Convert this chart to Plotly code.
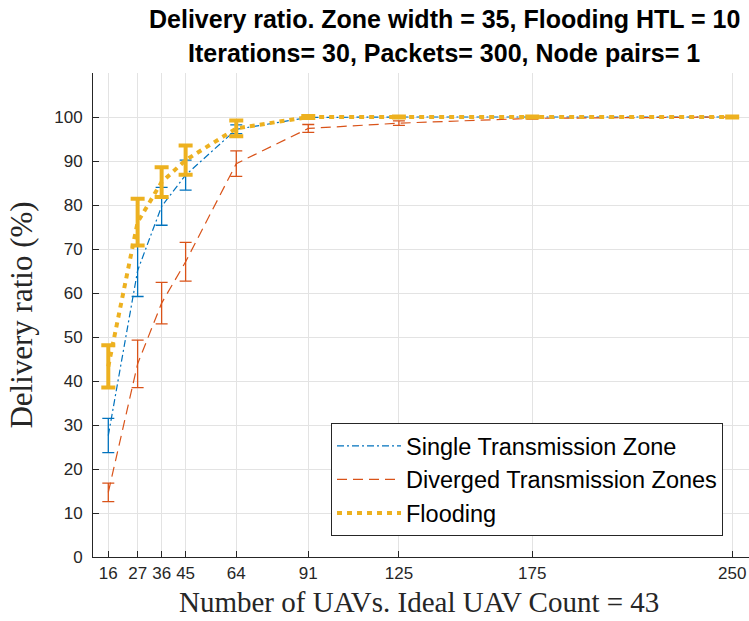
import plotly.graph_objects as go

# ---- data ----
uav_counts = [16, 27, 36, 45, 64, 91, 125, 175, 250]
tick_labels = ["16", "27", "36", "45", "64", "91", "125", "175", "250"]

single_zone = [27.6, 65.1, 79.7, 86.8, 97.2, 99.9, 100.0, 100.0, 100.0]
single_zone_err = [3.9, 5.9, 4.3, 3.4, 1.0, 0.2, 0.05, 0.0, 0.0]

diverged_zones = [14.7, 43.9, 57.7, 67.1, 89.4, 97.4, 98.6, 99.7, 100.0]
diverged_zones_err = [2.1, 5.4, 4.7, 4.4, 2.9, 0.9, 0.5, 0.2, 0.0]

flooding = [43.3, 76.1, 85.2, 90.2, 97.4, 100.0, 100.0, 100.0, 100.0]
flooding_err = [4.8, 5.3, 3.4, 3.3, 1.8, 0.2, 0.1, 0.1, 0.1]

series_names = ["Single Transmission Zone", "Diverged Transmission Zones", "Flooding"]
y_ticks = list(range(0, 101, 10))

title_line1 = "Delivery ratio. Zone width = 35, Flooding HTL = 10"
title_line2 = "Iterations= 30, Packets= 300, Node pairs= 1"
x_title = "Number of UAVs. Ideal UAV Count = 43"
y_title = "Delivery ratio (%)"

BLUE = "#0072BD"
ORANGE = "#D95319"
YELLOW = "#EDB120"
AXC = "#262626"

fig = go.Figure()

fig.add_trace(go.Scatter(
    x=uav_counts, y=single_zone, name=series_names[0], mode="lines",
    line=dict(color=BLUE, width=1.2, dash="7px,3px,2px,3px"),
    error_y=dict(type="data", array=single_zone_err, visible=True,
                 color=BLUE, thickness=1.3, width=6),
))
fig.add_trace(go.Scatter(
    x=uav_counts, y=diverged_zones, name=series_names[1], mode="lines",
    line=dict(color=ORANGE, width=1.2, dash="10px,6px"),
    error_y=dict(type="data", array=diverged_zones_err, visible=True,
                 color=ORANGE, thickness=1.3, width=6),
))
fig.add_trace(go.Scatter(
    x=uav_counts, y=flooding, name=series_names[2], mode="lines",
    line=dict(color=YELLOW, width=4, dash="5px,5px"),
    error_y=dict(type="data", array=flooding_err, visible=True,
                 color=YELLOW, thickness=4, width=7),
))

W, H = 749, 621
L, R, T, B = 93, 0, 73, 64
pw = W - L - R
ph = H - T - B

def px_x(px):
    return (px - L) / pw

def px_y(py):
    return (H - B - py) / ph

fig.update_layout(
    width=W, height=H,
    margin=dict(l=L, r=R, t=T, b=B, pad=0),
    paper_bgcolor="white", plot_bgcolor="white",
    font=dict(family="Liberation Sans, Arial, sans-serif", color=AXC),
    showlegend=True,
    legend=dict(
        x=px_x(723), y=px_y(536), xanchor="right", yanchor="bottom",
        bgcolor="white", bordercolor=AXC, borderwidth=1,
        font=dict(size=23.5, color="black", family="Liberation Sans, Arial, sans-serif"),
        itemwidth=64, tracegroupgap=0,
    ),
    annotations=[
        dict(text="<b>" + title_line1 + "</b>", x=px_x(444), y=px_y(19),
             xref="paper", yref="paper", xanchor="center", yanchor="middle",
             showarrow=False, font=dict(size=25, color="black")),
        dict(text="<b>" + title_line2 + "</b>", x=px_x(444), y=px_y(53),
             xref="paper", yref="paper", xanchor="center", yanchor="middle",
             showarrow=False, font=dict(size=25, color="black")),
        dict(text=x_title, x=px_x(419), y=px_y(602),
             xref="paper", yref="paper", xanchor="center", yanchor="middle",
             showarrow=False, borderpad=0,
             font=dict(family="Liberation Serif, Times New Roman, serif", size=29, color=AXC)),
    ],
)

fig.update_xaxes(
    range=[10.26, 256.3], tickvals=uav_counts, ticktext=tick_labels,
    showgrid=True, gridcolor="#e3e3e3", gridwidth=1,
    showline=True, linecolor=AXC, linewidth=1, mirror=False,
    ticks="inside", ticklen=6, tickcolor=AXC, tickwidth=1,
    tickfont=dict(size=17, color=AXC), ticklabelstandoff=1,
    zeroline=False,
)
fig.update_yaxes(
    range=[0, 110], tickvals=y_ticks,
    showgrid=True, gridcolor="#e3e3e3", gridwidth=1,
    showline=True, linecolor=AXC, linewidth=1, mirror=False,
    ticks="inside", ticklen=6, tickcolor=AXC, tickwidth=1,
    tickfont=dict(size=17, color=AXC), ticklabelstandoff=6,
    zeroline=False,
    title=dict(text=y_title, standoff=12,
               font=dict(family="Liberation Serif, Times New Roman, serif", size=31, color=AXC)),
)

fig.write_html("out.html")
